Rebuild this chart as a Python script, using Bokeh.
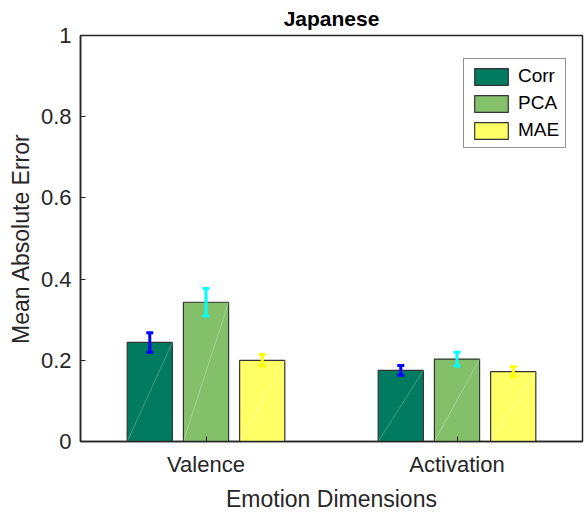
from bokeh.plotting import figure
from bokeh.models import ColumnDataSource, Whisker, TeeHead, FixedTicker, Legend, LegendItem
from bokeh.embed import file_html
from bokeh.resources import INLINE

# ---- data ----
categories = ["Valence", "Activation"]
methods = ["Corr", "PCA", "MAE"]
corr_vals = [0.244, 0.175]
pca_vals = [0.343, 0.203]
mae_vals = [0.200, 0.172]
corr_err = [0.024, 0.012]
pca_err = [0.034, 0.017]
mae_err = [0.014, 0.012]
y_ticks = [0, 0.2, 0.4, 0.6, 0.8, 1]
y_tick_labels = ["0", "0.2", "0.4", "0.6", "0.8", "1"]

bar_colors = ["#017B5F", "#84C06A", "#FFFF66"]
err_colors = ["#0000FF", "#00FFFF", "#FFFF00"]
offsets = [-0.224, 0.0, 0.224]
bar_w = 0.18
FONT = "Liberation Sans"
TXT = "#262626"

p = figure(width=586, height=514, x_range=(0.5, 2.5), y_range=(0, 1),
           output_backend="svg", toolbar_location=None,
           min_border_left=80, min_border_right=4, min_border_top=34, min_border_bottom=73)

p.title.text = "Japanese"
p.title.align = "center"
p.title.vertical_align = "middle"
p.title.text_font = FONT
p.title.text_font_size = "21px"
p.title.text_font_style = "bold"
p.title.text_color = "#000000"
p.title.standoff = 10

xs = list(range(1, len(categories) + 1))
renderers = []
for vals, errs, col, ecol, off in zip([corr_vals, pca_vals, mae_vals],
                                      [corr_err, pca_err, mae_err],
                                      bar_colors, err_colors, offsets):
    x = [xi + off for xi in xs]
    src = ColumnDataSource(dict(
        x=x, top=vals,
        lower=[v - e for v, e in zip(vals, errs)],
        upper=[v + e for v, e in zip(vals, errs)],
        x0=[xi - bar_w / 2 for xi in x], y0=[0] * len(x),
        x1=[xi + bar_w / 2 for xi in x],
    ))
    r = p.vbar(x="x", top="top", width=bar_w, source=src, fill_color=col,
               line_color="#333333", line_width=1.2)
    p.segment(x0="x0", y0="y0", x1="x1", y1="top", source=src,
              line_color="white", line_alpha=0.25, line_width=1)
    w = Whisker(base="x", lower="lower", upper="upper", source=src,
                line_color=ecol, line_width=3, level="overlay",
                upper_head=TeeHead(size=7, line_color=ecol, line_width=3),
                lower_head=TeeHead(size=7, line_color=ecol, line_width=3))
    p.add_layout(w)
    renderers.append(r)

legend = Legend(items=[LegendItem(label=m, renderers=[r]) for m, r in zip(methods, renderers)],
                location=(383, 293), margin=0, padding=6, spacing=5,
                glyph_width=42, glyph_height=21, label_height=21, label_standoff=6,
                label_text_font=FONT, label_text_font_size="19px", label_text_color="#000000",
                border_line_color=TXT, border_line_width=1, background_fill_alpha=1)
p.add_layout(legend)

p.xgrid.visible = False
p.ygrid.visible = False
p.outline_line_color = TXT
p.outline_line_width = 1.5

p.xaxis.ticker = FixedTicker(ticks=xs)
p.xaxis.major_label_overrides = {x: c for x, c in zip(xs, categories)}
p.yaxis.ticker = FixedTicker(ticks=y_ticks)
p.yaxis.major_label_overrides = {t: l for t, l in zip(y_ticks, y_tick_labels)}
p.xaxis.axis_label = "Emotion Dimensions"
p.yaxis.axis_label = "Mean Absolute Error"

for ax in (p.xaxis[0], p.yaxis[0]):
    ax.axis_line_color = TXT
    ax.axis_line_width = 1.5
    ax.major_tick_line_color = TXT
    ax.major_tick_in = 5
    ax.major_tick_out = 0
    ax.minor_tick_line_color = None
    ax.major_label_text_font = FONT
    ax.major_label_text_font_size = "22px"
    ax.major_label_text_color = TXT
    ax.axis_label_text_font = FONT
    ax.axis_label_text_font_size = "23px"
    ax.axis_label_text_font_style = "normal"
    ax.axis_label_text_color = TXT
p.xaxis.major_label_standoff = 10
p.xaxis.axis_label_standoff = 6
p.yaxis.major_label_standoff = 9
p.yaxis.axis_label_standoff = 4

open("out.html", "w").write(file_html(p, INLINE))
